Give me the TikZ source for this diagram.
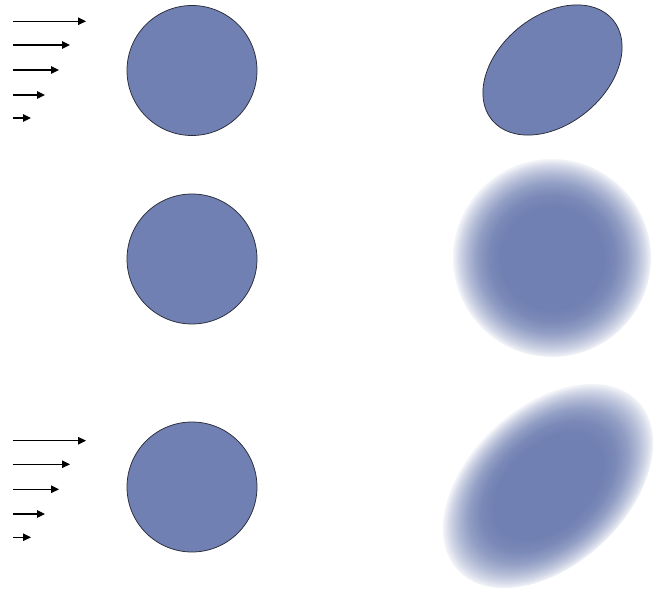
\documentclass[tikz,border=0pt]{standalone}
\usetikzlibrary{shapes.geometric,arrows.meta}
\definecolor{blob}{RGB}{112,128,178}
\definecolor{rim}{RGB}{40,42,55}
\pgfdeclareradialshading{softedge}{\pgfpoint{0bp}{0bp}}{%
  color(0bp)=(blob); color(13bp)=(blob); color(16bp)=(blob!93!white);
  color(19bp)=(blob!76!white); color(21.5bp)=(blob!53!white);
  color(23.5bp)=(blob!30!white); color(25bp)=(blob!8!white); color(50bp)=(white)}
\tikzset{
  solidball/.style={circle, draw=rim, line width=0.75pt, fill=blob, minimum size=130pt, inner sep=0pt},
  solidegg/.style={ellipse, draw=rim, line width=0.75pt, fill=blob, inner sep=0pt},
  softball/.style={circle, shading=softedge, inner sep=0pt},
  softegg/.style={ellipse, shading=softedge, inner sep=0pt},
  flow/.style={line width=1.3pt, -{Triangle[length=8pt,width=7.5pt]}}
}
\begin{document}
\begin{tikzpicture}[x=1pt,y=1pt]
\useasboundingbox (0,0) rectangle (654,592);
% left column
\node[solidball] (c1) at (192,521.5) {};
\node[solidball] (c2) at (192,333) {};
\node[solidball] (c3) at (192,105) {};
% right column
\node[solidegg, minimum width=157pt, minimum height=108pt, rotate=39.6] (e1) at (552.5,522) {};
\node[softball, minimum size=198pt] (f1) at (552,334) {};
\begin{scope}[transform canvas={shift={(548,106)}, rotate=43}]
  \node[softegg, minimum width=247pt, minimum height=158pt] (f2) at (0,0) {};
\end{scope}
% top arrows
\coordinate (ta1) at (13,570.7); \coordinate (tb1) at (86,570.7);
\coordinate (ta2) at (13,547);   \coordinate (tb2) at (70,547);
\coordinate (ta3) at (13,522);   \coordinate (tb3) at (59,522);
\coordinate (ta4) at (13,497);   \coordinate (tb4) at (45,497);
\coordinate (ta5) at (13,474);   \coordinate (tb5) at (31,474);
\foreach \i in {1,...,5} {\draw[flow] (ta\i) -- (tb\i);}
% bottom arrows
\coordinate (ba1) at (13,151.3); \coordinate (bb1) at (86,151.3);
\coordinate (ba2) at (13,127.7); \coordinate (bb2) at (70,127.7);
\coordinate (ba3) at (13,102.7); \coordinate (bb3) at (59,102.7);
\coordinate (ba4) at (13,78);    \coordinate (bb4) at (45,78);
\coordinate (ba5) at (13,54.7);  \coordinate (bb5) at (31,54.7);
\foreach \i in {1,...,5} {\draw[flow] (ba\i) -- (bb\i);}
\end{tikzpicture}
\end{document}
